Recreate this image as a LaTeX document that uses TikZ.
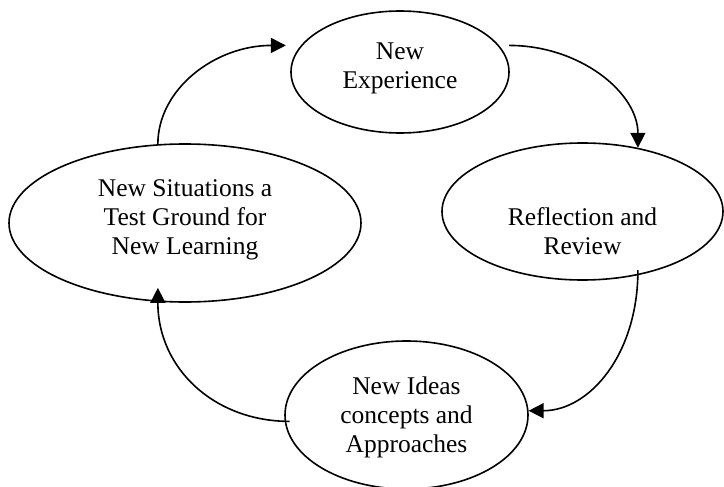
\documentclass[tikz,border=0pt]{standalone}
\usepackage{fontspec}
\setmainfont{Liberation Serif}
\usetikzlibrary{arrows.meta,shapes.geometric}

\begin{document}
\begin{tikzpicture}[x=1pt,y=-1pt,
 ell/.style={ellipse,draw,line width=1.6pt,inner sep=0pt},
 txt/.style={align=center,inner sep=0pt,font=\fontsize{25.5}{29}\selectfont},
 arr/.style={-{Triangle[length=15pt,width=15pt]},line width=1.6pt}]
\useasboundingbox (0,0) rectangle (724,487);
\node[ell,minimum width=218pt,minimum height=122pt,label={[txt,yshift=4pt]center:New\\Experience}] (exp) at (400,72) {};
\node[ell,minimum width=281pt,minimum height=137pt,label={[txt,yshift=-20pt]center:Reflection and\\Review}] (rev) at (582.5,211.5) {};
\node[ell,minimum width=243pt,minimum height=148pt,label={[txt,yshift=-2pt]center:New Ideas\\concepts and\\Approaches}] (idea) at (406.5,415) {};
\node[ell,minimum width=352pt,minimum height=158pt,label={[txt,yshift=3pt]center:New Situations a\\Test Ground for\\New Learning}] (sit) at (185,223) {};
\draw[arr,shorten >=15pt] (sit.109) .. controls +(0,-55) and +(-86,0) .. (exp.165);
\draw[arr] ([xshift=10pt]exp.15) .. controls +(71,0) and +(0,-55) .. (rev.49);
\draw[arr,shorten <=-5pt] (rev.-49) .. controls +(0,79) and +(61,0) .. (idea.2);
\draw[arr,shorten <=-5pt,shorten >=-14pt] (idea.183) .. controls +(-70,0) and +(0,67) .. (sit.-109);
\end{tikzpicture}
\end{document}
